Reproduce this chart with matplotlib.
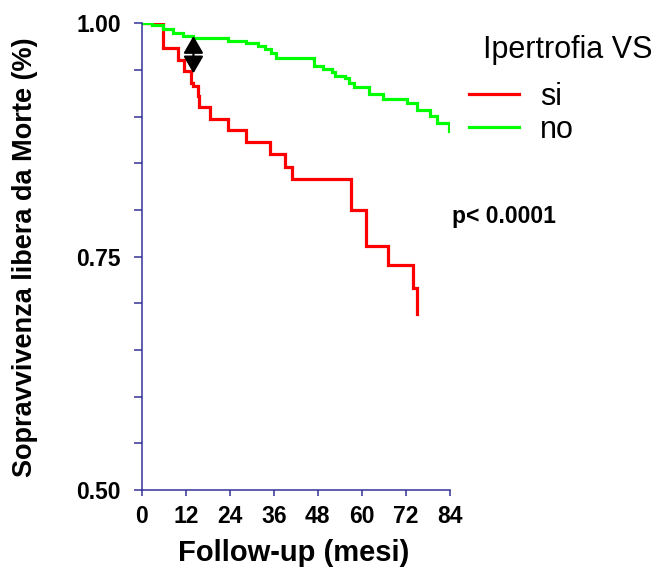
import numpy as np
import matplotlib
matplotlib.use('Agg')
import matplotlib.pyplot as plt
from matplotlib.lines import Line2D

plt.rcParams['font.family'] = ['Liberation Sans', 'DejaVu Sans']

# Kaplan-Meier steps (mesi, sopravvivenza)
t_si = [0, 5.7, 10.0, 11.6, 13.4, 14.1, 15.3, 15.6, 18.6, 23.4, 28.3, 35.0,
        39.0, 41.0, 56.9, 61.1, 67.0, 74.0, 74.9]
s_si = [1.0, 0.974, 0.961, 0.949, 0.936, 0.933, 0.922, 0.910, 0.898, 0.886,
        0.873, 0.860, 0.846, 0.833, 0.800, 0.761, 0.741, 0.716, 0.689]

t_no = [0, 2.7, 5.9, 8.6, 11.3, 14.0, 23.5, 28.5, 31.7, 33.5, 35.3, 36.7,
        47.0, 49.5, 51.8, 52.7, 55.4, 56.6, 57.9, 62.0, 65.7, 72.2, 74.9,
        78.6, 80.4, 83.8]
s_no = [1.0, 0.998, 0.994, 0.990, 0.986, 0.984, 0.981, 0.979, 0.976, 0.972,
        0.968, 0.963, 0.954, 0.951, 0.948, 0.944, 0.941, 0.936, 0.932, 0.924,
        0.919, 0.915, 0.907, 0.901, 0.893, 0.885]

gruppi = ['si', 'no']
colori = ['#ff0000', '#00ff00']

x_ticks = [0, 12, 24, 36, 48, 60, 72, 84]
y_ticks = [0.50, 0.55, 0.60, 0.65, 0.70, 0.75, 0.80, 0.85, 0.90, 0.95, 1.00]
y_labels = ['0.50', '', '', '', '', '0.75', '', '', '', '', '1.00']

# freccia tra le due curve a 14 mesi
freccia_t = 14.1
freccia_y = (0.9464, 0.9864)

axis_col = '#333399'

fig = plt.figure(figsize=(6.63, 5.69), dpi=100)
ax = fig.add_axes([0.2137, 0.1388, 0.4650, 0.8202])

ax.step(t_si, s_si, where='post', color=colori[0], lw=2.3, solid_joinstyle='miter')
ax.step(t_no, s_no, where='post', color=colori[1], lw=2.3, solid_joinstyle='miter')

ax.annotate('', xy=(freccia_t, freccia_y[1]), xytext=(freccia_t, freccia_y[0]),
            arrowprops=dict(arrowstyle='<|-|>,head_length=0.95,head_width=0.55',
                            mutation_scale=11, color='black', lw=1.6,
                            shrinkA=0, shrinkB=0))

ax.set_xlim(0, 84)
ax.set_ylim(0.5, 1.0)
ax.set_xticks(x_ticks)
ax.set_xticklabels([str(v) for v in x_ticks])
ax.set_yticks(y_ticks)
ax.set_yticklabels(y_labels)

for side in ['top', 'right']:
    ax.spines[side].set_visible(False)
for side in ['left', 'bottom']:
    ax.spines[side].set_color(axis_col)
    ax.spines[side].set_linewidth(1.1)
ax.tick_params(axis='y', direction='out', length=6, width=1.1, color=axis_col,
               pad=9, labelsize=16.5)
ax.tick_params(axis='x', direction='out', length=4.5, width=1.1, color=axis_col,
               pad=6, labelsize=16.5)
for lab in ax.get_xticklabels() + ax.get_yticklabels():
    lab.set_fontweight('bold')
ax.patch.set_visible(False)

fig.text(294 / 663, 1 - 553 / 569, 'Follow-up (mesi)', ha='center', va='center',
         fontsize=21, fontweight='bold')
fig.text(25 / 663, 1 - 257 / 569, 'Sopravvivenza libera da Morte (%)', ha='center',
         va='center', rotation=90, fontsize=19.5, fontweight='bold')

fig.text(483 / 663, 1 - 50 / 569, 'Ipertrofia VS', ha='left', va='center', fontsize=22)
handles = [Line2D([], [], color=c, lw=2.3) for c in colori]
fig.legend(handles, gruppi, loc='upper left', bbox_to_anchor=(469 / 663, 1 - 82 / 569),
           frameon=False, fontsize=22, handlelength=1.63, handletextpad=0.69,
           labelspacing=0.1, borderpad=0, borderaxespad=0)

fig.text(452 / 663, 1 - 217 / 569, 'p< 0.0001', ha='left', va='center',
         fontsize=16.5, fontweight='bold')

fig.savefig('out.png', dpi=100)
